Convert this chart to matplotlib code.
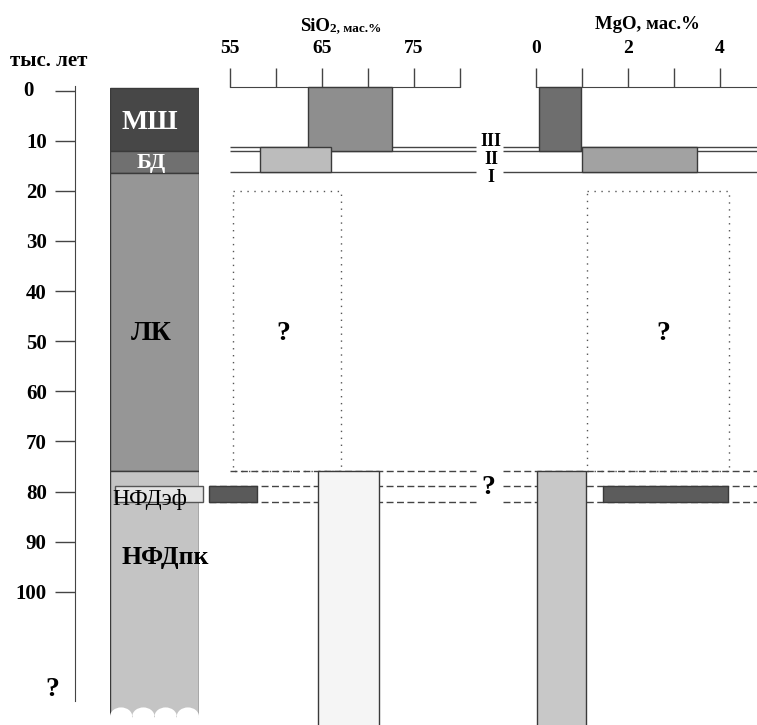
import matplotlib
matplotlib.use("Agg")
import matplotlib.pyplot as plt
from matplotlib.patches import Rectangle, Ellipse

plt.rcParams['font.family'] = ['Liberation Serif', 'DejaVu Serif']
plt.rcParams['font.weight'] = 'bold'

W, H = 757, 725
# age scale: 0 kyr sits 90.7 px from the top, 5.01 px per kyr
AGE0_PX, PX_PER_KYR = 90.7, 5.01
AGE_TOP = -AGE0_PX / PX_PER_KYR
AGE_BOT = (H - AGE0_PX) / PX_PER_KYR
AX_BASE = -0.75   # age level of the SiO2 / MgO scale bars

# stratigraphic column, thousand years
units = ['МШ', 'БД', 'ЛК', 'НФДэф', 'НФДпк']
unit_top = [-0.5, 12, 16.4, 76]
unit_bot = [12, 16.4, 76, 124.9]
unit_colors = ['#474747', '#707070', '#969696', '#c4c4c4']
ef_top, ef_bot = 79, 82          # НФДэф interval

age_ticks = [0, 10, 20, 30, 40, 50, 60, 70, 80, 90, 100]

# boundaries of horizons III, II, I
bounds = [11.2, 12.1, 16.2]
bound_labels = ['III', 'II', 'I']

# SiO2 ranges, wt.%
sio2_lo = [63.5, 58.3, 52.7, 64.6]
sio2_hi = [72.6, 66.0, 57.9, 71.2]
sio2_top = [AX_BASE, 11.2, 79, 76]
sio2_bot = [12.1, 16.2, 82, 140]
sio2_colors = ['#8e8e8e', '#bcbcbc', '#5a5a5a', '#f5f5f5']
sio2_ticks = [55, 65, 75]
sio2_minor = [60, 70, 80]

# MgO ranges, wt.%
mgo_lo = [0.07, 1.0, 1.45, 0.03]
mgo_hi = [0.98, 3.5, 4.18, 1.08]
mgo_top = [AX_BASE, 11.2, 79, 76]
mgo_bot = [12.1, 16.2, 82, 140]
mgo_colors = ['#6e6e6e', '#a2a2a2', '#5c5c5c', '#c8c8c8']
mgo_ticks = [0, 2, 4]
mgo_minor = [1, 3]

# unknown composition (dotted boxes)
sio2_unknown = (55.3, 67.1)
mgo_unknown = (1.1, 4.2)
unknown_top, unknown_bot = 20.1, 76
dash_ages = [76, 79, 82]

EDGE = '#3a3a3a'


def fx(x):
    return x / W


def fy(y):
    return 1 - y / H


fig = plt.figure(figsize=(W / 100, H / 100), dpi=100)

# --- age axis
ax_age = fig.add_axes([fx(75), 0, fx(10), 1])
ax_age.set_ylim(AGE_BOT, AGE_TOP)
ax_age.patch.set_visible(False)
for s in ['top', 'right', 'bottom']:
    ax_age.spines[s].set_visible(False)
ax_age.spines['left'].set_bounds(-0.9, 121.9)
ax_age.spines['left'].set_color('#444')
ax_age.set_xticks([])
ax_age.set_yticks(age_ticks)
ax_age.set_yticklabels([''] + [str(a) for a in age_ticks[1:]])
ax_age.tick_params(axis='y', direction='out', length=14.4, width=1,
                   color='#444', pad=6, labelsize=15)
# the "0" label sits further left than the others in the original
fig.text(fx(28), fy(AGE0_PX + age_ticks[0] * PX_PER_KYR), str(age_ticks[0]),
         ha='center', va='center', fontsize=15)
fig.text(fx(49), fy(61), 'тыс. лет', ha='center', va='center', fontsize=15)
fig.text(fx(52), fy(690), '?', ha='center', va='center', fontsize=20)

# --- stratigraphic column
ax_col = fig.add_axes([fx(110), 0, fx(89), 1])
ax_col.set_xlim(0, 1)
ax_col.set_ylim(AGE_BOT, AGE_TOP)
ax_col.axis('off')
for t, b, c in zip(unit_top, unit_bot, unit_colors):
    ax_col.add_patch(Rectangle((0, t), 1, b - t, fc=c, ec=EDGE, lw=1))
for cx in [0.125, 0.375, 0.625, 0.875]:
    ax_col.add_patch(Ellipse((cx, unit_bot[-1]), 0.25, 3.6, fc='white',
                             ec='none', zorder=2))
ax_col.add_patch(Rectangle((0.056, ef_top), 0.99, ef_bot - ef_top, fc='#e4e4e4',
                           ec='#555555', lw=1, clip_on=False, zorder=3))

ax_col.text(0.45, 6.4, units[0], color='white', fontsize=20, ha='center', va='center')
ax_col.text(0.46, 14.5, units[1], color='white', fontsize=16, ha='center', va='center')
ax_col.text(0.46, 48.4, units[2], color='black', fontsize=20, ha='center', va='center')
ax_col.text(0.03, 81.5, units[3], fontsize=17, fontweight='normal',
            ha='left', va='center', zorder=4, clip_on=False)
ax_col.text(0.13, 93.2, units[4], fontsize=18.5, ha='left', va='center', clip_on=False)


def setup_scale(ax, lo_val, lo_px, scale, ticks, minor, right):
    ax.set_xlim(lo_val - lo_px / scale, lo_val + (W - lo_px) / scale)
    ax.set_ylim(AGE_BOT, AGE_TOP)
    ax.patch.set_visible(False)
    for s in ['left', 'right', 'bottom']:
        ax.spines[s].set_visible(False)
    ax.spines['top'].set_position(('data', AX_BASE))
    ax.spines['top'].set_bounds(ticks[0], right)
    ax.spines['top'].set_color('#444')
    ax.xaxis.tick_top()
    ax.set_xticks(ticks)
    ax.set_xticks(minor, minor=True)
    ax.set_yticks([])
    ax.tick_params(axis='x', which='both', direction='out', length=13.7,
                   width=1, color='#444', pad=8, labelsize=14)


# --- SiO2 panel
ax_si = fig.add_axes([0, 0, 1, 1])
setup_scale(ax_si, 55, 230, 9.2, sio2_ticks, sio2_minor, 80)
ax_si.hlines(bounds, 55, 81.7, color='#444', lw=1)
for lo, hi, t, b, c in zip(sio2_lo, sio2_hi, sio2_top, sio2_bot, sio2_colors):
    ax_si.add_patch(Rectangle((lo, t), hi - lo, b - t, fc=c, ec=EDGE, lw=1, zorder=3))
ax_si.add_patch(Rectangle((sio2_unknown[0], unknown_top), sio2_unknown[1] - sio2_unknown[0],
                          unknown_bot - unknown_top, fill=False, ec='#555555', lw=1,
                          ls=(0, (1, 4)), zorder=2))
ax_si.hlines(dash_ages[0], 55, 81.7, color='#444', lw=1, linestyles=(0, (5, 2.5)), zorder=2)
ax_si.hlines(dash_ages[1:], sio2_lo[2], 81.7, color='#444', lw=1, linestyles=(0, (5, 2.5)), zorder=2)
ax_si.text(60.8, 48.4, '?', ha='center', va='center', fontsize=20)

# SiO2 title: big "SiO", small "2, мас.%" on the same baseline
t_si = fig.text(fx(300), fy(31), 'SiO', ha='left', va='baseline', fontsize=13.5)
renderer = fig.canvas.get_renderer()
bb = t_si.get_window_extent(renderer)
fig.text(bb.x1 / W, fy(31), '2, мас.%', ha='left', va='baseline', fontsize=9.5)

# --- MgO panel
ax_mg = fig.add_axes([0, 0, 1, 1])
mg_right = (W - 536) / 46
setup_scale(ax_mg, 0, 536, 46, mgo_ticks, mgo_minor, mg_right)
ax_mg.hlines(bounds, -0.72, mg_right, color='#444', lw=1)
for lo, hi, t, b, c in zip(mgo_lo, mgo_hi, mgo_top, mgo_bot, mgo_colors):
    ax_mg.add_patch(Rectangle((lo, t), hi - lo, b - t, fc=c, ec=EDGE, lw=1, zorder=3))
ax_mg.add_patch(Rectangle((mgo_unknown[0], unknown_top), mgo_unknown[1] - mgo_unknown[0],
                          unknown_bot - unknown_top, fill=False, ec='#555555', lw=1,
                          ls=(0, (1, 4)), zorder=2))
ax_mg.hlines(dash_ages, -0.72, mg_right, color='#444', lw=1, linestyles=(0, (5, 2.5)), zorder=2)
ax_mg.text(2.76, 48.4, '?', ha='center', va='center', fontsize=20)
fig.text(fx(647), fy(29), 'MgO, мас.%', ha='center', va='baseline', fontsize=13.5)

# horizon labels and the gap question mark
for lab, ypx in zip(bound_labels, [142, 160, 178]):
    fig.text(fx(491), fy(ypx), lab, ha='center', va='center', fontsize=13)
fig.text(fx(488), fy(487), '?', ha='center', va='center', fontsize=20)

fig.savefig('out.png', dpi=100)
